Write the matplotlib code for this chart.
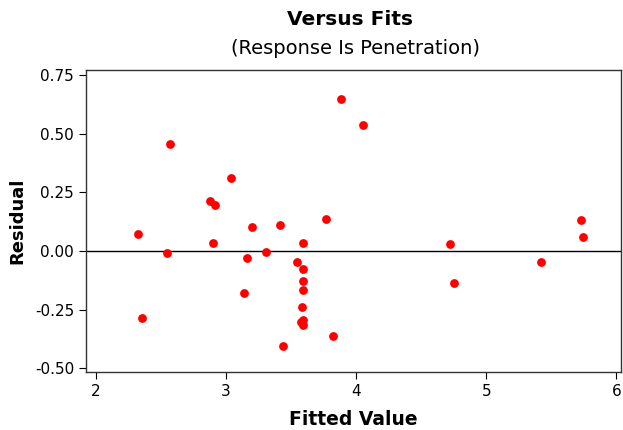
import matplotlib
matplotlib.use('Agg')
import matplotlib.pyplot as plt

fitted = [2.325, 2.353, 2.545, 2.571, 2.880, 2.916, 2.898, 3.039, 3.141, 3.165,
          3.198, 3.305, 3.418, 3.436, 3.549, 3.595, 3.595, 3.595, 3.595, 3.585,
          3.595, 3.575, 3.595, 3.769, 3.823, 3.884, 4.050, 4.721, 4.754, 5.418,
          5.725, 5.740]
residual = [0.072, -0.286, -0.010, 0.455, 0.213, 0.198, 0.034, 0.310, -0.179, -0.030,
            0.102, -0.006, 0.111, -0.406, -0.048, 0.034, -0.077, -0.127, -0.165, -0.237,
            -0.294, -0.304, -0.316, 0.136, -0.362, 0.648, 0.537, 0.030, -0.135, -0.048,
            0.131, 0.058]

xticks = [2, 3, 4, 5, 6]
yticks = [-0.50, -0.25, 0.00, 0.25, 0.50, 0.75]

plt.rcParams['font.family'] = ['DejaVu Sans']

fig = plt.figure(figsize=(6.23, 4.30), dpi=100)
ax = fig.add_axes([86 / 623, 1 - 372 / 430, 535 / 623, 302 / 430])

ax.scatter(fitted, residual, s=40, color='red', zorder=3, linewidths=0)
ax.axhline(0, color='black', linewidth=1)

ax.set_xlim(1.925, 6.035)
ax.set_ylim(-0.516, 0.772)
ax.set_xticks(xticks)
ax.set_yticks(yticks)
ax.set_yticklabels(['%.2f' % v for v in yticks])
ax.tick_params(direction='out', length=5, labelsize=11, colors='black')

for s in ax.spines.values():
    s.set_linewidth(1)
    s.set_color('#333333')

ax.set_xlabel('Fitted Value', fontsize=13.5, fontweight='bold', labelpad=8)
ax.set_ylabel('Residual', fontsize=13, fontweight='bold', labelpad=6)

fig.text(0.562, 0.955, 'Versus Fits', ha='center', va='center', fontsize=14.5, fontweight='bold')
fig.text(0.57, 0.887, '(Response Is Penetration)', ha='center', va='center', fontsize=14)

fig.savefig('out.png', dpi=100)
